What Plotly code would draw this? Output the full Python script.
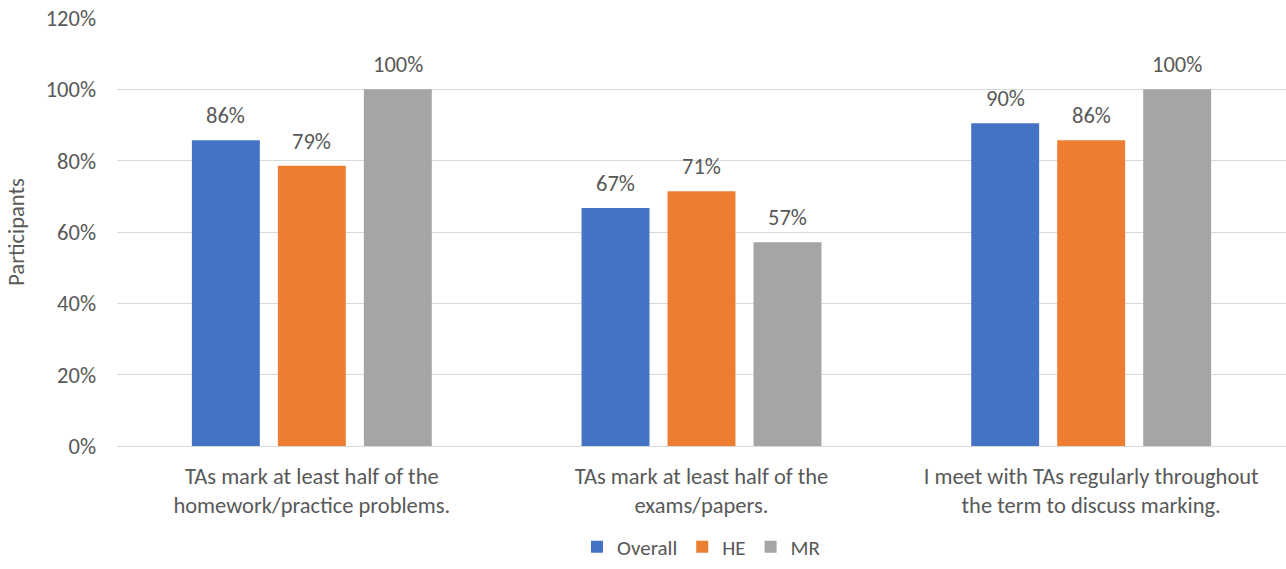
import plotly.graph_objects as go

categories = [
    "TAs mark at least half of the<br>homework/practice problems.",
    "TAs mark at least half of the<br>exams/papers.",
    "I meet with TAs regularly throughout<br>the term to discuss marking.",
]
series_names = ["Overall", "HE", "MR"]
overall = [0.857, 0.667, 0.905]
he = [0.786, 0.714, 0.857]
mr = [1.0, 0.571, 1.0]
values = [overall, he, mr]
colors = ["#4472C4", "#ED7D31", "#A5A5A5"]
y_ticks = [0, 0.2, 0.4, 0.6, 0.8, 1.0, 1.2]

W, H = 1286, 569
ML, MR_, MT, MB = 117, 0, 18, 123
BARGAP = 0.338
BARGROUPGAP = 0.21
FONT = "Calibri, Carlito, Lato, sans-serif"
FS = 22.5
TXT = "#595959"

fig = go.Figure()
for name, vals, col in zip(series_names, values, colors):
    fig.add_trace(go.Bar(
        x=categories, y=vals, name=name, marker=dict(color=col, line=dict(width=0)),
        hoverinfo="skip",
    ))

plot_w = W - ML - MR_
cat_w = plot_w / len(categories)
slot = cat_w * (1 - BARGAP) / len(series_names)
for i, vals in enumerate(values):
    shift = (i - (len(series_names) - 1) / 2) * slot
    for c, v in zip(categories, vals):
        fig.add_annotation(
            x=c, y=v, xref="x", yref="y", text=f"{round(v*100)}%",
            showarrow=False, xshift=shift, yshift=9, yanchor="bottom",
            font=dict(family=FONT, size=FS, color=TXT),
        )

fig.update_layout(
    width=W, height=H,
    margin=dict(l=ML, r=MR_, t=MT, b=MB, autoexpand=False),
    paper_bgcolor="white", plot_bgcolor="white",
    barmode="group", bargap=BARGAP, bargroupgap=BARGROUPGAP,
    font=dict(family=FONT, size=FS, color=TXT),
    legend=dict(orientation="h", x=0.5, xanchor="center", y=-0.284, yanchor="bottom",
                font=dict(family=FONT, size=21, color=TXT), itemwidth=30,
                traceorder="normal", bgcolor="rgba(0,0,0,0)"),
    showlegend=True,
)
fig.update_yaxes(
    range=[0, 1.2], tickvals=y_ticks, tickformat=".0%",
    showgrid=True, gridcolor="#D9D9D9", gridwidth=1, zeroline=False,
    ticks="", ticklabelstandoff=20, showline=False,
    title=dict(text="Participants", standoff=14, font=dict(family=FONT, size=FS, color=TXT)),
    automargin=False,
)
fig.update_xaxes(
    showline=True, linecolor="#D9D9D9", linewidth=1, ticks="",
    ticklabelstandoff=10, automargin=False,
    tickfont=dict(family=FONT, size=FS, color=TXT),
)

fig.write_html("out.html")
